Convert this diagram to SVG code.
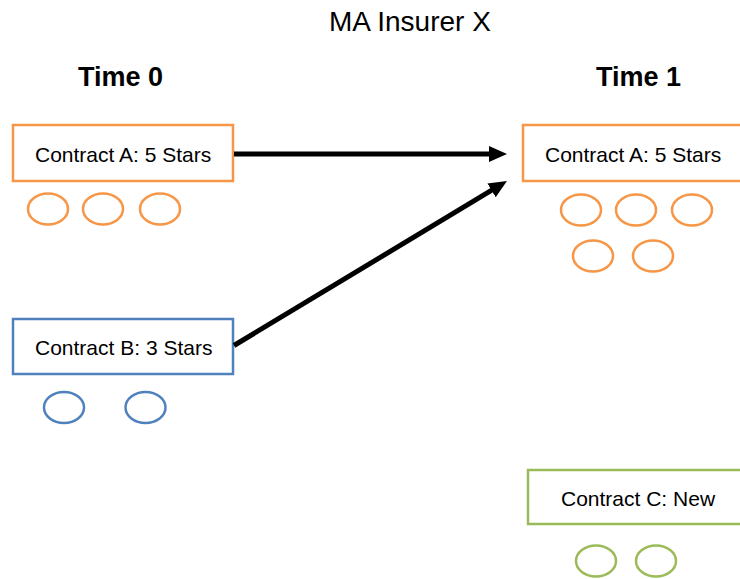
<svg xmlns="http://www.w3.org/2000/svg" width="740" height="579" viewBox="0 0 740 579">
<defs>
<style>
text{font-family:"Liberation Sans",Arial,sans-serif;fill:#000}
.title{font-size:28px}
.time{font-size:27px;font-weight:bold}
.lbl{font-size:21px}
.box{fill:#fff;stroke-width:2.5}
.ell{fill:none;stroke-width:2.5}
.o{stroke:#F79646}
.b{stroke:#4F81BD}
.g{stroke:#9BBB59}
.conn{stroke:#000;stroke-width:5;fill:none}
</style>
<marker id="ah" markerUnits="userSpaceOnUse" markerWidth="18" markerHeight="18" refX="8" refY="8" orient="auto" viewBox="0 0 18 16">
<path d="M0,0 L18,8 L0,16 z" fill="#000"/>
</marker>
</defs>
<rect width="740" height="579" fill="#fff"/>
<text class="title" x="329" y="31">MA Insurer X</text>
<text class="time" x="78" y="86">Time 0</text>
<text class="time" x="596" y="86">Time 1</text>
<g id="contractA0">
<rect class="box o" x="13" y="125" width="220" height="56"/>
<text class="lbl" x="35" y="162">Contract A: 5 Stars</text>
<ellipse class="ell o" cx="48" cy="209" rx="20" ry="15.5"/>
<ellipse class="ell o" cx="103" cy="209" rx="20" ry="15.5"/>
<ellipse class="ell o" cx="160" cy="209" rx="20" ry="15.5"/>
</g>
<g id="contractB0">
<rect class="box b" x="13" y="319" width="220" height="55"/>
<text class="lbl" x="35" y="355">Contract B: 3 Stars</text>
<ellipse class="ell b" cx="64" cy="407.5" rx="20" ry="15.5"/>
<ellipse class="ell b" cx="145.5" cy="407.5" rx="20" ry="15.5"/>
</g>
<g id="contractA1">
<rect class="box o" x="523" y="125" width="222" height="56"/>
<text class="lbl" x="545" y="162">Contract A: 5 Stars</text>
<ellipse class="ell o" cx="581" cy="210" rx="20" ry="15.5"/>
<ellipse class="ell o" cx="636" cy="210" rx="20" ry="15.5"/>
<ellipse class="ell o" cx="692" cy="210" rx="20" ry="15.5"/>
<ellipse class="ell o" cx="593" cy="256" rx="20" ry="15.5"/>
<ellipse class="ell o" cx="653" cy="256" rx="20" ry="15.5"/>
</g>
<g id="contractC1">
<rect class="box g" x="528" y="470" width="220" height="54"/>
<text class="lbl" x="561" y="506">Contract C: New</text>
<ellipse class="ell g" cx="596" cy="561" rx="20" ry="15.5"/>
<ellipse class="ell g" cx="656" cy="561" rx="20" ry="15.5"/>
</g>
<g id="connectors">
<line class="conn" x1="234" y1="154" x2="497" y2="154" marker-end="url(#ah)"/>
<line class="conn" x1="234" y1="345.5" x2="498.4" y2="186.2" marker-end="url(#ah)"/>
</g>
</svg>
